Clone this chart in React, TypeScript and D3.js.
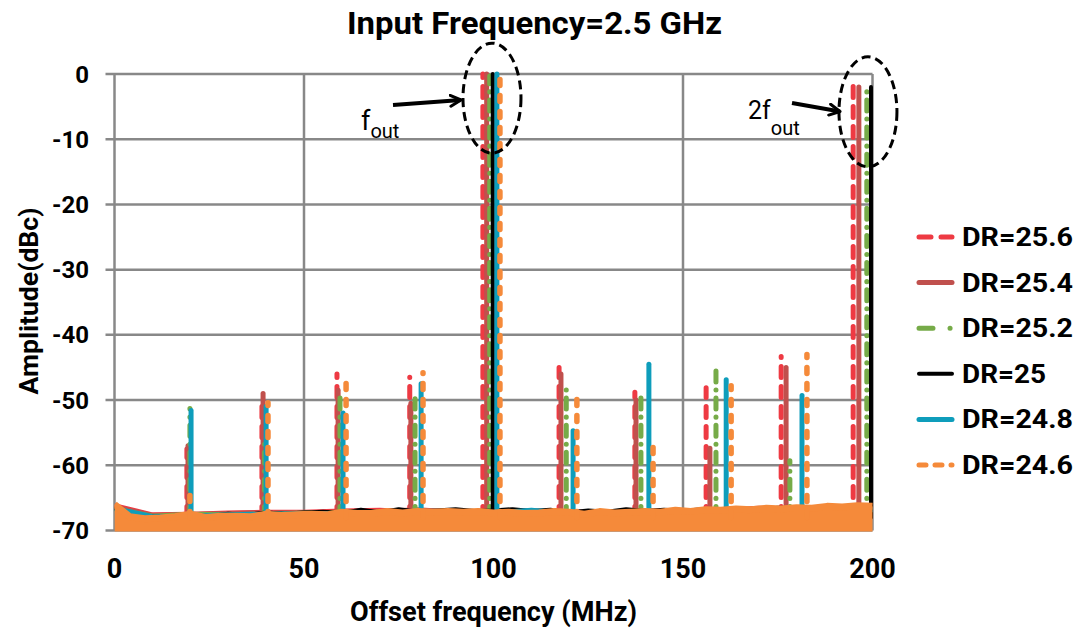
import React from "react";
import * as d3 from "d3";

// Series labels (decimation ratio) and styles
const seriesNames = ["DR=25.6", "DR=25.4", "DR=25.2", "DR=25", "DR=24.8", "DR=24.6"];

// Spur positions (MHz) and peak levels (dBc) for each series
const spurFreq25_6 = [19.1, 38.9, 58.7, 77.9, 97.2, 117.3, 137.3, 156.1, 175.9, 194.9];
const spurDb25_6 = [-57.5, -50.5, -46.0, -46.5, 0, -45.0, -48.8, -48.1, -43.3, -1.8];
const spurFreq25_4 = [19.4, 39.2, 59.0, 78.2, 98.2, 117.8, 137.6, 157.1, 177.2, 196.4];
const spurDb25_4 = [-57.0, -49.0, -48.5, -50.5, 0, -46.0, -50.0, -57.4, -45.0, -2.0];
const spurFreq25_2 = [19.9, 39.6, 59.5, 79.3, 99.0, 119.2, 138.9, 158.7, 178.2, 198.5];
const spurDb25_2 = [-51.3, -56.0, -48.9, -49.8, -0.3, -48.0, -48.5, -44.4, -59.3, -2.0];
const spurFreq25 = [99.8, 199.6];
const spurDb25 = [0, -2.0];
const spurFreq24_8 = [20.2, 40.0, 60.3, 80.9, 100.9, 121.0, 141.0, 161.4, 181.4];
const spurDb24_8 = [-51.6, -51.0, -52.0, -47.5, 0, -54.7, -44.5, -46.9, -49.3];
const spurFreq24_6 = [19.9, 40.5, 61.1, 81.4, 101.7, 122.0, 142.1, 162.7, 182.7];
const spurDb24_6 = [-64.0, -50.4, -46.2, -45.8, 0, -49.3, -56.2, -47.8, -43.0];

// Noise floor samples
const floorFreq10 = [0, 10, 20, 30, 40, 50, 60, 70, 80, 90, 100, 110, 120, 130, 140, 150, 160, 170, 180, 190, 200];
const floor25_6 = [-66.2, -67.6, -67.5, -67.3, -67.2, -67.2, -67.0, -66.9, -67.2, -67.1, -67.1, -67.0, -67.3, -67.2, -67.1, -67.0, -66.9, -66.6, -66.8, -66.6, -66.5];
const floor25_4 = [-66.4, -67.7, -67.6, -67.4, -67.3, -67.3, -67.2, -67.1, -66.8, -67.2, -67.2, -67.1, -67.1, -67.3, -67.0, -67.1, -66.9, -66.9, -66.5, -66.7, -66.5];
const floor25_2 = [-66.7, -67.8, -67.5, -67.6, -67.5, -67.3, -67.2, -67.2, -67.1, -67.3, -67.2, -67.2, -67.4, -67.3, -67.2, -67.1, -67.0, -67.0, -66.9, -66.8, -66.7];
const floor24_8 = [-66.6, -67.9, -67.8, -67.6, -67.5, -67.4, -67.4, -67.3, -67.2, -67.3, -67.3, -66.9, -67.4, -67.5, -67.3, -67.2, -67.1, -67.0, -67.0, -66.9, -66.8];
const floorFreq5 = [0, 5, 10, 15, 20, 25, 30, 35, 40, 45, 50, 55, 60, 65, 70, 75, 80, 85, 90, 95, 100, 105, 110, 115, 120, 125, 130, 135, 140, 145, 150, 155, 160, 165, 170, 175, 180, 185, 190, 195, 200];
const floor25 = [-66.5, -67.6, -67.9, -68.0, -67.6, -67.9, -67.5, -67.7, -67.3, -67.5, -67.3, -67.2, -67.4, -66.9, -67.3, -66.8, -67.2, -67.0, -66.8, -67.1, -67.0, -66.8, -67.1, -66.9, -67.3, -67.0, -67.2, -66.8, -67.1, -66.9, -67.1, -66.8, -66.9, -66.8, -66.9, -66.6, -66.7, -66.5, -66.6, -66.4, -66.3];
const floorFreq4 = [0, 4, 8, 12, 16, 20, 24, 28, 32, 36, 40, 44, 48, 52, 56, 60, 64, 68, 72, 76, 80, 84, 88, 92, 96, 100, 104, 108, 112, 116, 120, 124, 128, 132, 136, 140, 144, 148, 152, 156, 160, 164, 168, 172, 176, 180, 184, 188, 192, 196, 200];
const floor24_6 = [-66.0, -67.9, -68.2, -68.1, -67.9, -67.5, -68.0, -67.8, -67.8, -67.9, -67.5, -67.7, -67.6, -67.5, -67.6, -67.2, -67.4, -67.4, -67.1, -67.3, -67.1, -67.2, -67.1, -67.2, -67.1, -67.3, -67.2, -67.4, -67.3, -67.1, -67.2, -67.5, -67.1, -67.3, -67.2, -67.1, -67.2, -66.9, -67.1, -66.8, -66.9, -66.7, -66.8, -66.6, -66.7, -66.5, -66.6, -66.3, -66.4, -66.2, -66.3];

// Axis ticks
const xTicks = [0, 50, 100, 150, 200];
const yTicks = [0, -10, -20, -30, -40, -50, -60, -70];

const colors = ["#EE3A43", "#C0504D", "#76AB48", "#000000", "#0E9DBB", "#F58A3A"];
const widths = [5, 5, 5, 4, 5, 5.5];
const dashes = ["11,9", "", "11,8,0.1,8", "", "", "6,10"];
const legendDashes = ["12,10", "", "14,17,0.1,40", "", "", "7,9"];

const W = 1083;
const H = 633;
const M = { left: 114.5, right: 872.5, top: 74, bottom: 530.5 };

const x = d3.scaleLinear().domain([0, 200]).range([M.left, M.right]);
const y = d3.scaleLinear().domain([-70, 0]).range([M.bottom, M.top]);

const spurs = [
  [spurFreq25_6, spurDb25_6],
  [spurFreq25_4, spurDb25_4],
  [spurFreq25_2, spurDb25_2],
  [spurFreq25, spurDb25],
  [spurFreq24_8, spurDb24_8],
  [spurFreq24_6, spurDb24_6],
];
const floors = [
  [floorFreq10, floor25_6],
  [floorFreq10, floor25_4],
  [floorFreq10, floor25_2],
  [floorFreq5, floor25],
  [floorFreq10, floor24_8],
  [floorFreq4, floor24_6],
];

const font = "Roboto, 'Liberation Sans', sans-serif";

export default function App() {
  const line = d3
    .line<[number, number]>()
    .x((d) => x(d[0]))
    .y((d) => y(d[1]))
    .curve(d3.curveLinear);
  const area = d3
    .area<[number, number]>()
    .x((d) => x(d[0]))
    .y0(y(-70) + 2)
    .y1((d) => y(d[1]))
    .curve(d3.curveLinear);

  const legendY = (i: number) => 237 + i * 45.6;

  const ell1 = { cx: x(99.6), cy: y(-3.7), rx: 29, ry: 55 };
  const ell2 = { cx: x(198.8), cy: y(-5.8), rx: 29, ry: 55 };

  return (
    <svg
      width={W}
      height={H}
      style={{ position: "absolute", left: 0, top: 0, background: "#fff" }}
      fontFamily={font}
    >
      <defs>
        <clipPath id="plot-clip">
          <rect x={M.left} y={M.top - 4} width={M.right - M.left + 2} height={M.bottom - M.top + 5} />
        </clipPath>
        <marker id="arrowhead" viewBox="0 0 14 14" refX="12" refY="7" markerWidth="14" markerHeight="14" markerUnits="userSpaceOnUse" orient="auto">
          <path d="M1.5,1.5 L12,7 L1.5,12.5" fill="none" stroke="#000" strokeWidth={3} strokeLinecap="round" strokeLinejoin="round" />
        </marker>
      </defs>

      {/* grid */}
      {yTicks.map((t) => (
        <line key={"gy" + t} x1={M.left - 9} x2={M.right} y1={y(t)} y2={y(t)} stroke="#888" strokeWidth={2.5} />
      ))}
      {xTicks.map((t) => (
        <line key={"gx" + t} x1={x(t)} x2={x(t)} y1={M.top} y2={M.bottom} stroke="#888" strokeWidth={2.5} />
      ))}

      {/* series */}
      <g clipPath="url(#plot-clip)">
        {seriesNames.map((name, i) => {
          const [ff, fv] = floors[i];
          const pts: [number, number][] = ff.map((f, k) => [f, fv[k]]);
          const [sf, sv] = spurs[i];
          return (
            <g key={name}>
              {i === 5 && <path d={area(pts) || ""} fill={colors[i]} />}
              <path
                d={line(pts) || ""}
                fill="none"
                stroke={colors[i]}
                strokeWidth={i === 5 ? 7 : 5}
                strokeLinejoin="round"
              />
              {sf.map((f, k) => (
                <line
                  key={k}
                  x1={x(f)}
                  x2={x(f)}
                  y1={y(-68)}
                  y2={y(sv[k])}
                  stroke={colors[i]}
                  strokeWidth={widths[i]}
                  strokeDasharray={dashes[i] || undefined}
                  strokeLinecap="round"
                />
              ))}
            </g>
          );
        })}
      </g>

      {/* axis tick labels */}
      {yTicks.map((t) => (
        <text key={"ty" + t} x={89} y={y(t) + 8.5} textAnchor="end" fontSize={24} fontWeight="bold" fill="#000">
          {t}
        </text>
      ))}
      {xTicks.map((t) => (
        <text key={"tx" + t} x={x(t)} y={578} textAnchor="middle" fontSize={27} fontWeight="bold" fill="#000">
          {t}
        </text>
      ))}

      {/* titles */}
      <text x={534.5} y={34} textAnchor="middle" fontSize={32} fontWeight="bold" fill="#000" textLength={375} lengthAdjust="spacingAndGlyphs">
        Input Frequency=2.5 GHz
      </text>
      <text x={493.5} y={621} textAnchor="middle" fontSize={27} fontWeight="bold" fill="#000" textLength={287} lengthAdjust="spacingAndGlyphs">
        Offset frequency (MHz)
      </text>
      <text transform="translate(38,301) rotate(-90)" textAnchor="middle" fontSize={26} fontWeight="bold" fill="#000" textLength={187} lengthAdjust="spacingAndGlyphs">
        Amplitude(dBc)
      </text>

      {/* annotations */}
      <ellipse {...ell1} fill="none" stroke="#000" strokeWidth={3} strokeDasharray="9,5" />
      <ellipse {...ell2} fill="none" stroke="#000" strokeWidth={3} strokeDasharray="9,5" />
      <line x1={393} y1={105} x2={461} y2={100} stroke="#000" strokeWidth={4} markerEnd="url(#arrowhead)" />
      <line x1={792} y1={103} x2={840} y2={111.5} stroke="#000" strokeWidth={4} markerEnd="url(#arrowhead)" />
      <text x={361} y={130} fontSize={27} fill="#000">
        f<tspan fontSize={20} dy={8}>out</tspan>
      </text>
      <text x={748} y={119} fontSize={25} fill="#000">
        2f<tspan fontSize={20} dy={16}>out</tspan>
      </text>

      {/* legend */}
      {seriesNames.map((name, i) => (
        <g key={"lg" + name}>
          <line
            x1={919}
            x2={952}
            y1={legendY(i)}
            y2={legendY(i)}
            stroke={colors[i]}
            strokeWidth={i === 3 ? 4 : 5}
            strokeDasharray={legendDashes[i] || undefined}
            strokeLinecap="round"
          />
          <text
            x={962}
            y={legendY(i) + 9}
            fontSize={25}
            fontWeight="bold"
            fill="#000"
            textLength={name.length === 7 ? 111 : 84}
            lengthAdjust="spacingAndGlyphs"
          >
            {name}
          </text>
        </g>
      ))}
    </svg>
  );
}
